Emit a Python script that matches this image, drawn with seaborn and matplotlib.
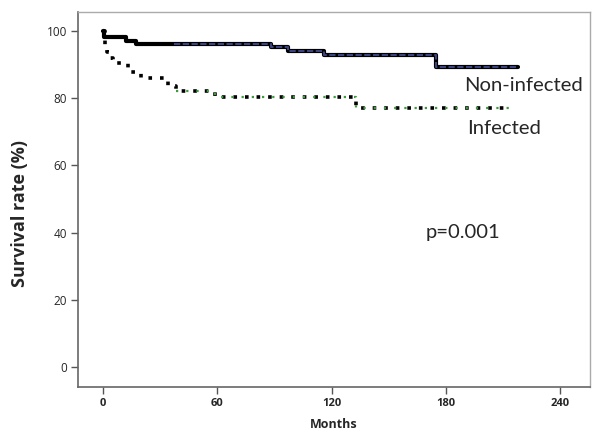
import numpy as np
import pandas as pd
import matplotlib
matplotlib.use("Agg")
import matplotlib.pyplot as plt
import seaborn as sns

# Kaplan-Meier step values
noninf_months = [0, 0.6, 12, 17, 88, 97, 116, 175, 218]
noninf_surv = [100, 98.0, 97.0, 96.1, 95.0, 93.9, 92.8, 89.3, 89.3]

inf_months = [0, 1, 2, 3, 5, 13, 20, 34, 38, 59, 133, 214]
inf_surv = [100, 95.5, 93.5, 92.0, 90.5, 87.6, 86.0, 83.5, 82.0, 80.2, 77.1, 77.1]

x_ticks = [0, 60, 120, 180, 240]
y_ticks = [0, 20, 40, 60, 80, 100]

sns.set_style("white")
plt.rcParams['font.family'] = ['Open Sans', 'DejaVu Sans']

df_non = pd.DataFrame({"Months": noninf_months, "Survival": noninf_surv})
df_inf = pd.DataFrame({"Months": inf_months, "Survival": inf_surv})

fig, ax = plt.subplots(figsize=(5.92, 4.32), dpi=100)
fig.subplots_adjust(left=0.132, right=0.997, top=0.972, bottom=0.104)

# non-infected: thick black step line, navy dashed overlay later on
sns.lineplot(data=df_non, x="Months", y="Survival", ax=ax, color="black",
             linewidth=3.0, drawstyle="steps-post", estimator=None, sort=False)
late_non = df_non[df_non["Months"] >= 17].assign(Months=lambda d: d["Months"].clip(lower=37))
sns.lineplot(data=late_non, x="Months", y="Survival", ax=ax, color="#3a4580",
             linewidth=1.5, linestyle=(0, (3, 1.2)), drawstyle="steps-post",
             estimator=None, sort=False)

# infected: black dotted step line, green dotted overlay later on
sns.lineplot(data=df_inf, x="Months", y="Survival", ax=ax, color="black",
             linewidth=2.6, linestyle=(0, (1, 2.2)), drawstyle="steps-post",
             estimator=None, sort=False)
sns.lineplot(data=df_inf[df_inf["Months"] >= 38], x="Months", y="Survival", ax=ax,
             color="#3d9a3d", linewidth=1.6, linestyle=(0, (1, 3.6)),
             drawstyle="steps-post", estimator=None, sort=False)

ax.set_xlim(-13.2, 256)
ax.set_ylim(-5.9, 105.5)
ax.set_xticks(x_ticks)
ax.set_yticks(y_ticks)
ax.tick_params(axis="both", direction="out", length=5, width=1, color="#555555",
               labelsize=8, bottom=True, left=True, pad=3)
ax.tick_params(axis="y", labelsize=8.5)
for lab in ax.get_xticklabels():
    lab.set_fontweight("bold")

for side in ["left", "bottom"]:
    ax.spines[side].set_color("#666666")
    ax.spines[side].set_linewidth(1.2)
for side in ["top", "right"]:
    ax.spines[side].set_color("#aaaaaa")
    ax.spines[side].set_linewidth(1.0)

ax.set_xlabel("Months", fontsize=9, fontweight="bold", labelpad=6)
ax.set_ylabel("Survival rate (%)", fontsize=13, fontweight="bold")
ax.yaxis.set_label_coords(-0.095, 0.463)

ax.text(189.5, 83.7, "Non-infected", fontsize=14.6, family=["Lato", "DejaVu Sans"],
        ha="left", va="center")
ax.text(191.5, 71.0, "Infected", fontsize=14.6, family=["Lato", "DejaVu Sans"],
        ha="left", va="center")
ax.text(169.5, 40.0, "p=0.001", fontsize=14.6, family=["Lato", "DejaVu Sans"],
        ha="left", va="center")

fig.savefig("out.png", dpi=100)
